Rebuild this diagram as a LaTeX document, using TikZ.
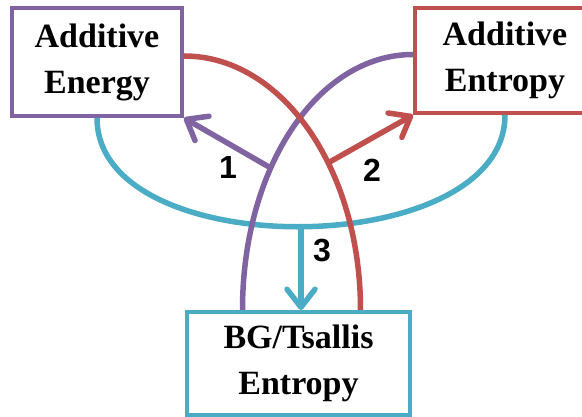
\documentclass[tikz,border=0pt]{standalone}
\usepackage{fontspec}
\setmainfont{Liberation Serif}
\newfontfamily\labelfont{Liberation Sans}
\usetikzlibrary{arrows.meta}
\tikzset{>={Straight Barb[length=18pt,width=28pt,round]}}
\definecolor{vio}{HTML}{8064A2}
\definecolor{rust}{HTML}{C0504D}
\definecolor{aqua}{HTML}{4BACC6}

\begin{document}
\begin{tikzpicture}[x=1pt, y=1pt, line width=5.5pt,
  box/.style = {draw, line width=4pt, fill=white, rectangle, align=center, inner sep=0pt, font=\fontsize{34}{46}\selectfont\bfseries},
  num/.style = {font=\labelfont\fontsize{32}{32}\selectfont\bfseries}]
\clip (0,0) rectangle (582,417);
\node[box, draw=vio, minimum width=170pt, minimum height=108pt] (energy) at (97,355) {Additive\\Energy};
\node[box, draw=rust, minimum width=180pt, minimum height=105pt] (addent) at (505,356.5) {Additive\\Entropy};
\node[box, draw=aqua, minimum width=223pt, minimum height=103pt] (bgt) at (298.5,53.5) {BG/Tsallis\\Entropy};
\draw[aqua] (energy.south) .. controls +(0,-147) and +(0,-147) .. (addent.south) coordinate[pos=0.5] (low);
\draw[vio] ([xshift=-56pt]bgt.north) .. controls +(0,143) and +(-95,0) .. ([yshift=6pt]addent.west) coordinate[pos=0.37] (p1);
\draw[rust] ([yshift=6pt]energy.east) .. controls +(98,0) and +(0,141) .. ([xshift=62pt]bgt.north) coordinate[pos=0.61] (p2);
\draw[vio, ->] (p1) -- (energy.south east);
\draw[rust, ->] (p2) -- (addent.south west);
\draw[aqua, ->] (low) -- (low |- bgt.north);
\node[num] (n1) at (228,250) {1};
\node[num] (n2) at (372,247) {2};
\node[num] (n3) at (322,166) {3};
\end{tikzpicture}
\end{document}
